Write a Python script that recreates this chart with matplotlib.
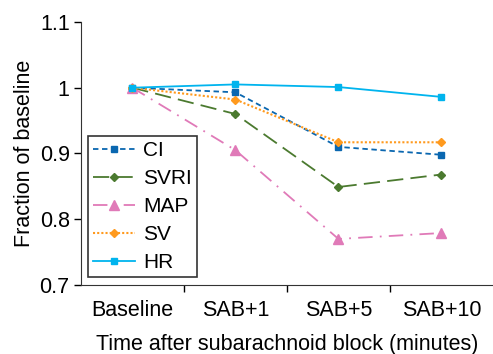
import numpy as np
import matplotlib
matplotlib.use('Agg')
import matplotlib.pyplot as plt

plt.rcParams['font.family'] = ['Liberation Sans', 'DejaVu Sans']

# data
categories = ['Baseline', 'SAB+1', 'SAB+5', 'SAB+10']
ci = [1.0, 0.993, 0.910, 0.898]
svri = [1.0, 0.960, 0.849, 0.868]
map_ = [1.0, 0.905, 0.770, 0.779]
sv = [1.0, 0.982, 0.917, 0.917]
hr = [1.0, 1.005, 1.001, 0.986]

x = np.arange(len(categories)) + 0.5

fig = plt.figure(figsize=(4.93, 3.54), dpi=100)
ax = fig.add_axes([0.164, 0.195, 0.836, 0.743])

ax.plot(x, ci, color='#0a67b0', ls=(0, (3, 2)), lw=1.3, marker='s', ms=5, label='CI')
ax.plot(x, svri, color='#4b7a2f', ls=(0, (9, 4)), lw=1.3, marker='D', ms=4, label='SVRI')
ax.plot(x, map_, color='#e07ab8', ls=(0, (8, 4, 1, 4)), lw=1.3, marker='^', ms=7, label='MAP')
ax.plot(x, sv, color='#ff9a1e', ls=(0, (1, 1)), lw=1.5, marker='D', ms=4, label='SV')
ax.plot(x, hr, color='#00b4ee', ls='-', lw=1.3, marker='s', ms=5, label='HR')

ax.set_xlim(0, 4)
ax.set_ylim(0.7, 1.1)
ax.set_yticks([0.7, 0.8, 0.9, 1.0, 1.1])
ax.set_yticklabels(['0.7', '0.8', '0.9', '1', '1.1'])
ax.set_xticks([1, 2, 3])
ax.set_xticklabels([])
ax.set_xticks(x, minor=True)
ax.set_xticklabels(categories, minor=True)
ax.tick_params(axis='x', which='minor', length=0, pad=11, labelsize=15.5)
ax.tick_params(axis='x', which='major', length=5, width=1, direction='out')
ax.tick_params(axis='y', length=5, width=1, direction='out', labelsize=15.5, pad=3)

for s in ['top', 'right']:
    ax.spines[s].set_visible(False)
for s in ['left', 'bottom']:
    ax.spines[s].set_color('#333333')

ax.set_xlabel('Time after subarachnoid block (minutes)', fontsize=15.5, labelpad=9)
ax.set_ylabel('Fraction of baseline', fontsize=15.5, labelpad=3)

leg = ax.legend(loc='lower left', bbox_to_anchor=(0.017, 0.03), fontsize=15,
                fancybox=False, edgecolor='#333333', framealpha=1,
                handlelength=2.0, handletextpad=0.4, labelspacing=0.43,
                borderpad=0.25, borderaxespad=0)
leg.get_frame().set_linewidth(1.2)

fig.savefig('out.png', dpi=100)
